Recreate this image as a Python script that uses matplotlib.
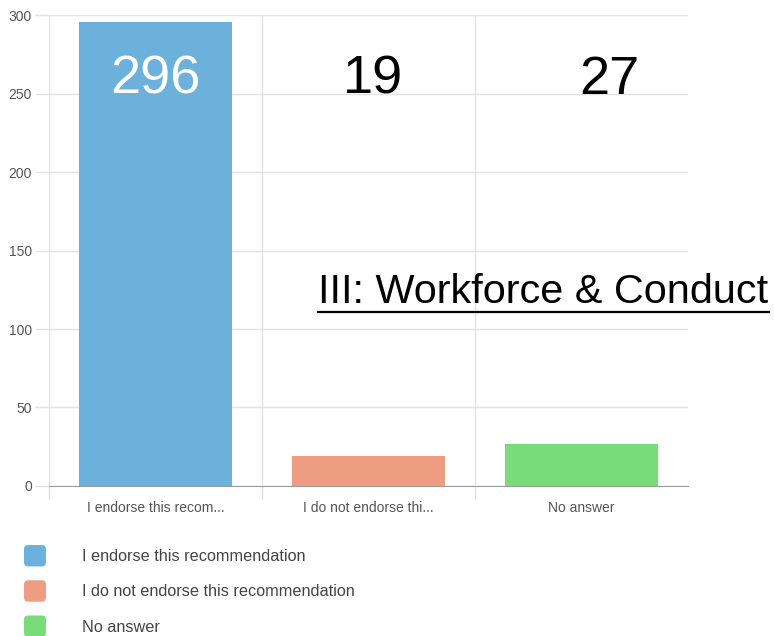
import matplotlib.pyplot as plt
from matplotlib.patches import Patch, FancyBboxPatch
from matplotlib.lines import Line2D
from matplotlib.legend_handler import HandlerPatch

# donnees
categories = ["I endorse this recom...", "I do not endorse thi...", "No answer"]
legend_labels = ["I endorse this recommendation", "I do not endorse this recommendation", "No answer"]
votes = [296, 19, 27]
value_colors = ["white", "black", "black"]
value_shift = [0.0, 0.02, 0.13]   # les chiffres ne sont pas tout a fait centres
bar_colors = ["#6CB0DC", "#EE9C82", "#78DD78"]
yticks = [0, 50, 100, 150, 200, 250, 300]
title = "III: Workforce & Conduct"

plt.rcParams["font.family"] = ["Liberation Sans", "DejaVu Sans"]


class RoundHandler(HandlerPatch):
    def create_artists(self, legend, orig_handle, xdescent, ydescent, width, height, fontsize, trans):
        p = FancyBboxPatch((-xdescent, -ydescent), width, height,
                           boxstyle="round,pad=0,rounding_size=3",
                           facecolor=orig_handle.get_facecolor(), edgecolor="none",
                           transform=trans)
        return [p]


fig = plt.figure(figsize=(7.74, 6.36), dpi=100)
ax = fig.add_axes([0.063, 0.236, 0.826, 0.740])

x = list(range(len(categories)))
ax.bar(x, votes, width=0.72, color=bar_colors, zorder=3)
ax.set_xlim(-0.5, 2.5)
ax.set_ylim(0, 300)

# grille
ax.set_yticks(yticks)
ax.grid(axis="y", color="#E3E3E3", linewidth=1, zorder=0)
ax.set_xticks(x)
ax.set_xticklabels(categories, fontsize=10, color="#555555")
ax.set_xticks([-0.5, 0.5, 1.5], minor=True)
ax.grid(axis="x", which="minor", color="#E3E3E3", linewidth=1, zorder=0)
ax.tick_params(axis="x", which="major", length=0, pad=11)
ax.tick_params(axis="x", which="minor", length=10, color="#E3E3E3", width=1)
ax.tick_params(axis="y", length=10, color="#E3E3E3", width=1, labelsize=10,
               labelcolor="#555555", pad=2)
for side in ["top", "right", "left"]:
    ax.spines[side].set_visible(False)
ax.spines["bottom"].set_color("#9A9A9A")
ax.spines["bottom"].set_zorder(4)

# valeurs
for xi, v, c, s in zip(x, votes, value_colors, value_shift):
    ax.text(xi + s, 259, str(v), ha="center", va="center", fontsize=39, color=c, zorder=5)

# titre souligne
t = fig.text(0.993, 1 - 292 / 636, title, ha="right", va="center", fontsize=29.8, color="black")
fig.canvas.draw()
bb = t.get_window_extent().transformed(fig.transFigure.inverted())
fig.add_artist(Line2D([bb.x0, bb.x1], [bb.y0 - 0.002, bb.y0 - 0.002],
                      color="black", linewidth=1.6, transform=fig.transFigure))

# legende
handles = [Patch(facecolor=c, edgecolor="none") for c in bar_colors]
fig.legend(handles, legend_labels, loc="upper left", bbox_to_anchor=(0.031, 0.143),
           frameon=False, fontsize=11.7, handlelength=1.35, handleheight=1.65,
           handletextpad=2.2, labelspacing=0.85, borderpad=0, borderaxespad=0,
           labelcolor="#444444", handler_map={Patch: RoundHandler()})

fig.savefig("out.png", dpi=100)
